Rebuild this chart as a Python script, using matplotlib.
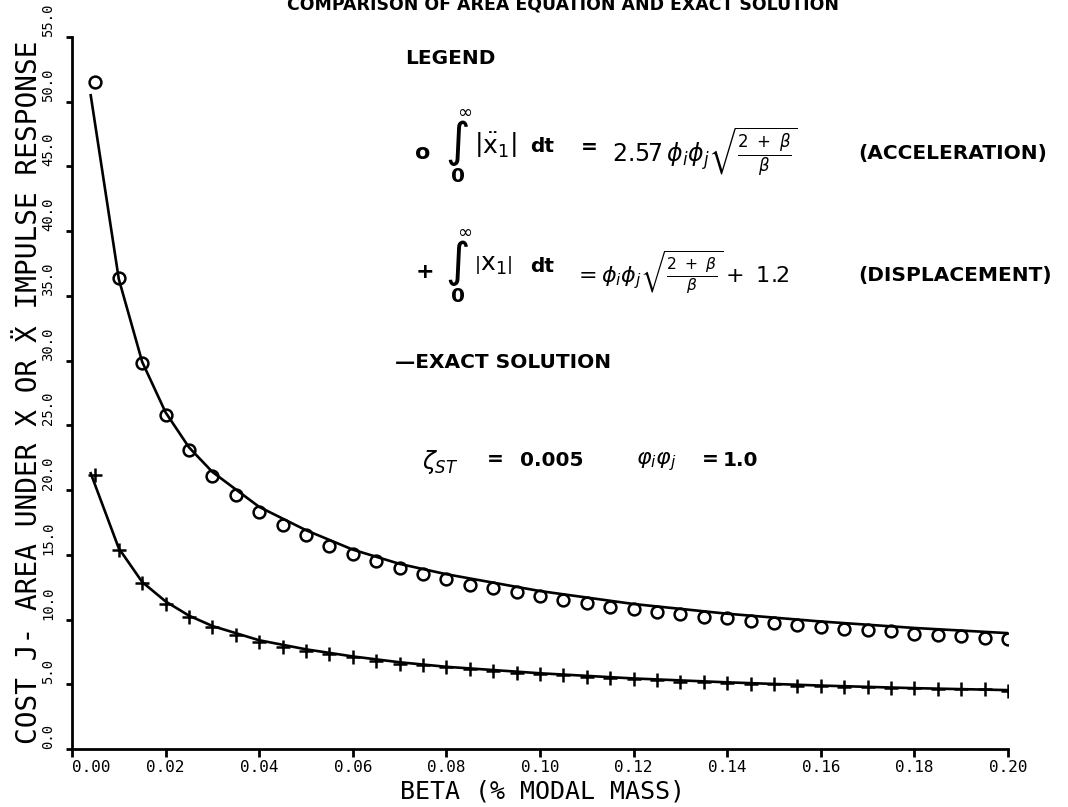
import matplotlib
matplotlib.use("Agg")
import matplotlib.pyplot as plt

# beta values where the area equation was evaluated (0.005 steps)
beta = [0.005, 0.010, 0.015, 0.020, 0.025, 0.030, 0.035, 0.040, 0.045, 0.050,
        0.055, 0.060, 0.065, 0.070, 0.075, 0.080, 0.085, 0.090, 0.095, 0.100,
        0.105, 0.110, 0.115, 0.120, 0.125, 0.130, 0.135, 0.140, 0.145, 0.150,
        0.155, 0.160, 0.165, 0.170, 0.175, 0.180, 0.185, 0.190, 0.195, 0.200]

# area equation, acceleration (circles)
accel_eq = [51.5, 36.4, 29.8, 25.8, 23.1, 21.1, 19.6, 18.3, 17.3, 16.5,
            15.7, 15.1, 14.5, 14.0, 13.5, 13.1, 12.7, 12.4, 12.1, 11.8,
            11.5, 11.3, 11.0, 10.8, 10.6, 10.4, 10.2, 10.1, 9.9, 9.7,
            9.6, 9.4, 9.3, 9.2, 9.1, 8.9, 8.8, 8.7, 8.6, 8.5]

# area equation, displacement (plus signs)
disp_eq = [21.2, 15.4, 12.8, 11.2, 10.2, 9.4, 8.8, 8.3, 7.9, 7.6,
           7.3, 7.1, 6.8, 6.6, 6.5, 6.3, 6.2, 6.0, 5.9, 5.8,
           5.7, 5.6, 5.5, 5.4, 5.3, 5.2, 5.2, 5.1, 5.0, 5.0,
           4.9, 4.9, 4.8, 4.8, 4.7, 4.7, 4.6, 4.6, 4.6, 4.5]

# exact solution curves
exact_beta = [0.004, 0.010, 0.015, 0.020, 0.025, 0.030, 0.040, 0.050, 0.060,
              0.070, 0.080, 0.100, 0.120, 0.140, 0.160, 0.180, 0.200]
exact_accel = [50.5, 36.3, 29.9, 26.0, 23.3, 21.4, 18.7, 16.9, 15.4,
               14.3, 13.5, 12.2, 11.2, 10.45, 9.85, 9.35, 8.95]
exact_disp = [21.3, 15.5, 12.9, 11.4, 10.3, 9.5, 8.4, 7.7, 7.15,
              6.7, 6.35, 5.85, 5.45, 5.15, 4.9, 4.7, 4.55]

x_ticks = [0.00, 0.02, 0.04, 0.06, 0.08, 0.10, 0.12, 0.14, 0.16, 0.18, 0.20]
y_ticks = [0, 5, 10, 15, 20, 25, 30, 35, 40, 45, 50, 55]

W, H = 1068, 807
plt.rcParams['mathtext.fontset'] = 'dejavusans'
mono = 'DejaVu Sans Mono'


def fx(x):
    return x / W


def fy(y):
    return 1 - y / H


fig = plt.figure(figsize=(W / 100, H / 100), dpi=100)
ax = fig.add_axes([fx(72), fy(749), fx(1008) - fx(72), fy(37) - fy(749)])

ax.plot(exact_beta, exact_accel, color='black', linewidth=1.9)
ax.plot(exact_beta, exact_disp, color='black', linewidth=1.9)
ax.plot(beta, accel_eq, linestyle='none', marker='o', markersize=8.5,
        markerfacecolor='none', markeredgecolor='black', markeredgewidth=1.8)
ax.plot(beta, disp_eq, linestyle='none', marker='+', markersize=10,
        color='black', markeredgewidth=1.8)

ax.set_xlim(0, 0.20)
ax.set_ylim(0, 55)
ax.set_xticks(x_ticks)
ax.set_xticklabels([f"{v:.2f}" for v in x_ticks], family=mono, fontsize=11.5)
ax.set_yticks(y_ticks)
ax.set_yticklabels([f"{v:.1f}" for v in y_ticks], family=mono, fontsize=10,
                   rotation=90, va='bottom')
ax.get_xticklabels()[0].set_ha('left')

for side in ['top', 'right']:
    ax.spines[side].set_visible(False)
for side in ['left', 'bottom']:
    ax.spines[side].set_linewidth(2)
ax.tick_params(axis='x', direction='out', length=6, width=2, pad=2)
ax.tick_params(axis='y', direction='out', length=4, width=2, pad=8)

fig.text(fx(542), fy(792), "BETA (% MODAL MASS)", family=mono, fontsize=18,
         ha='center', va='center')
fig.text(fx(29), fy(392), "COST J- AREA UNDER X OR \u1E8C IMPULSE RESPONSE",
         family=mono, fontsize=20, rotation=90, ha='center', va='center')

# title, cut off by the top edge in the scan
fig.text(fx(563), fy(9), "COMPARISON OF AREA EQUATION AND EXACT SOLUTION",
         fontsize=12.5, fontweight='bold', ha='center', va='baseline')

# legend block
lg = dict(fontsize=14.5, fontweight='bold', va='center')
fig.text(fx(405), fy(58), "LEGEND", ha='left', **lg)

# acceleration row
fig.text(fx(423), fy(153), "o", ha='center', fontsize=16, fontweight='bold', va='center')
fig.text(fx(458), fy(143), "\u222B", ha='center', va='center', fontsize=34)
fig.text(fx(465), fy(112), r"$\infty$", ha='center', va='center', fontsize=13)
fig.text(fx(458), fy(177), "0", ha='center', **lg)
fig.text(fx(474), fy(145), r"$\left|\ddot{\mathrm{x}}_1\right|$", ha='left', va='center', fontsize=18)
fig.text(fx(530), fy(147), "dt", ha='left', **lg)
fig.text(fx(581), fy(147), "=", ha='left', **lg)
fig.text(fx(612), fy(152), r"$2.57\,\phi_i\phi_j\sqrt{\frac{2\ +\ \beta}{\beta}}$",
         ha='left', va='center', fontsize=17)
fig.text(fx(858), fy(153), "(ACCELERATION)", ha='left', **lg)

# displacement row
fig.text(fx(425), fy(272), "+", ha='center', fontsize=16, fontweight='bold', va='center')
fig.text(fx(458), fy(263), "\u222B", ha='center', va='center', fontsize=34)
fig.text(fx(465), fy(232), r"$\infty$", ha='center', va='center', fontsize=13)
fig.text(fx(458), fy(297), "0", ha='center', **lg)
fig.text(fx(474), fy(265), r"$\left|\mathrm{x}_1\right|$", ha='left', va='center', fontsize=18)
fig.text(fx(530), fy(267), "dt", ha='left', **lg)
fig.text(fx(574), fy(272), r"$=\phi_i\phi_j\sqrt{\frac{2\ +\ \beta}{\beta}}+\ 1.2$",
         ha='left', va='center', fontsize=16)
fig.text(fx(858), fy(275), "(DISPLACEMENT)", ha='left', **lg)

fig.text(fx(395), fy(363), "\u2014EXACT SOLUTION", ha='left', **lg)

# damping / mode shape note
fig.text(fx(422), fy(462), r"$\zeta_{ST}$", ha='left', va='center', fontsize=17)
fig.text(fx(487), fy(460), "=", ha='left', **lg)
fig.text(fx(520), fy(460), "0.005", ha='left', **lg)
fig.text(fx(636), fy(462), r"$\varphi_i\varphi_j$", ha='left', va='center', fontsize=16)
fig.text(fx(702), fy(460), "=", ha='left', **lg)
fig.text(fx(723), fy(460), "1.0", ha='left', **lg)

fig.savefig("out.png", dpi=100)
